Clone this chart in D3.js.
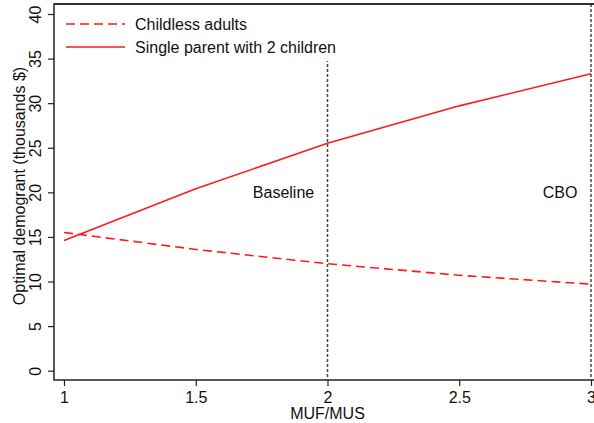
<!DOCTYPE html>
<html>
<head>
<meta charset="utf-8">
<script src="https://cdn.jsdelivr.net/npm/d3@7"></script>
<style>
  body { margin: 0; background: #fff; }
  svg { display: block; font-family: "Liberation Sans", Arial, sans-serif; }
</style>
</head>
<body>
<svg id="chart" width="594" height="423"></svg>
<script>
// MUF/MUS ratios and optimal demogrants (thousands $)
const ratios = [1, 1.5, 2, 2.5, 3];
const childless = [15.5, 13.6, 12.0, 10.7, 9.7];
const singleParent = [14.6, 20.4, 25.5, 29.7, 33.3];
const xTicks = [1, 1.5, 2, 2.5, 3];
const yTicks = [0, 5, 10, 15, 20, 25, 30, 35, 40];
const refLines = [{ x: 2, label: "Baseline", dx: -44 }, { x: 3, label: "CBO", dx: -31 }];
const legendItems = [
  { label: "Childless adults", dash: "9,5" },
  { label: "Single parent with 2 children", dash: null }
];

const svg = d3.select("#chart");
const frame = { left: 54, right: 600, top: 4, bottom: 380 };
const fs = 16;

const x = d3.scaleLinear().domain([1, 3]).range([64, 591]);
const y = d3.scaleLinear().domain([0, 40]).range([370.7, 14]);

// plot frame
svg.append("rect")
  .attr("x", frame.left).attr("y", frame.top)
  .attr("width", frame.right - frame.left).attr("height", frame.bottom - frame.top)
  .attr("fill", "none").attr("stroke", "#222").attr("stroke-width", 1.5);

// reference lines
svg.selectAll(".ref").data(refLines).join("line")
  .attr("class", "ref")
  .attr("x1", d => x(d.x)).attr("x2", d => x(d.x))
  .attr("y1", frame.top).attr("y2", frame.bottom)
  .attr("stroke", "#444").attr("stroke-width", 1.5)
  .attr("stroke-dasharray", "3,2");

svg.selectAll(".reflabel").data(refLines).join("text")
  .attr("class", "reflabel")
  .attr("x", d => x(d.x) + d.dx).attr("y", 198)
  .attr("text-anchor", "middle")
  .attr("font-size", fs).attr("fill", "#111")
  .text(d => d.label);

// series
const line = d3.line().x((d, i) => x(ratios[i])).y(d => y(d));
svg.append("path").datum(childless)
  .attr("d", line).attr("fill", "none")
  .attr("stroke", "#ff1a1a").attr("stroke-width", 1.6)
  .attr("stroke-dasharray", "9,5");
svg.append("path").datum(singleParent)
  .attr("d", line).attr("fill", "none")
  .attr("stroke", "#ff1a1a").attr("stroke-width", 1.6);

// legend
const legend = svg.append("g");
legend.append("rect")
  .attr("x", frame.left + 1).attr("y", frame.top + 1)
  .attr("width", 286).attr("height", 56).attr("fill", "#fff");
legendItems.forEach((d, i) => {
  const yy = 24 + i * 23;
  legend.append("line")
    .attr("x1", 66).attr("x2", 125).attr("y1", yy).attr("y2", yy)
    .attr("stroke", "#ff1a1a").attr("stroke-width", 1.6)
    .attr("stroke-dasharray", d.dash);
  legend.append("text")
    .attr("x", 135).attr("y", yy + 6)
    .attr("font-size", fs).attr("fill", "#111")
    .text(d.label);
});

// redraw top border over legend background
svg.append("line")
  .attr("x1", frame.left).attr("x2", frame.right)
  .attr("y1", frame.top).attr("y2", frame.top)
  .attr("stroke", "#222").attr("stroke-width", 1.5);

// x axis
const xAxis = svg.append("g")
  .attr("transform", `translate(0,${frame.bottom})`)
  .call(d3.axisBottom(x).tickValues(xTicks).tickSize(6).tickPadding(6)
    .tickFormat(d3.format("")));
xAxis.select(".domain").remove();
xAxis.selectAll(".tick line").attr("stroke", "#222").attr("stroke-width", 1.2);
xAxis.selectAll(".tick text").attr("font-size", fs).attr("fill", "#111")
  .attr("font-family", "Liberation Sans, Arial, sans-serif");

// y axis
const yAxis = svg.append("g")
  .attr("transform", `translate(${frame.left},0)`)
  .call(d3.axisLeft(y).tickValues(yTicks).tickSize(6).tickPadding(0));
yAxis.select(".domain").remove();
yAxis.selectAll(".tick line").attr("stroke", "#222").attr("stroke-width", 1.2);
yAxis.selectAll(".tick text")
  .attr("font-size", fs).attr("fill", "#111")
  .attr("font-family", "Liberation Sans, Arial, sans-serif")
  .attr("text-anchor", "middle")
  .attr("x", 0).attr("dy", 0)
  .attr("transform", "translate(-13,0) rotate(-90)");

// axis titles
svg.append("text")
  .attr("x", x(2)).attr("y", 419)
  .attr("text-anchor", "middle")
  .attr("font-size", fs).attr("fill", "#111")
  .text("MUF/MUS");
svg.append("text")
  .attr("transform", `translate(25,${(frame.top + frame.bottom) / 2 - 6}) rotate(-90)`)
  .attr("text-anchor", "middle")
  .attr("font-size", fs).attr("fill", "#111")
  .text("Optimal demogrant (thousands $)");
</script>
</body>
</html>
